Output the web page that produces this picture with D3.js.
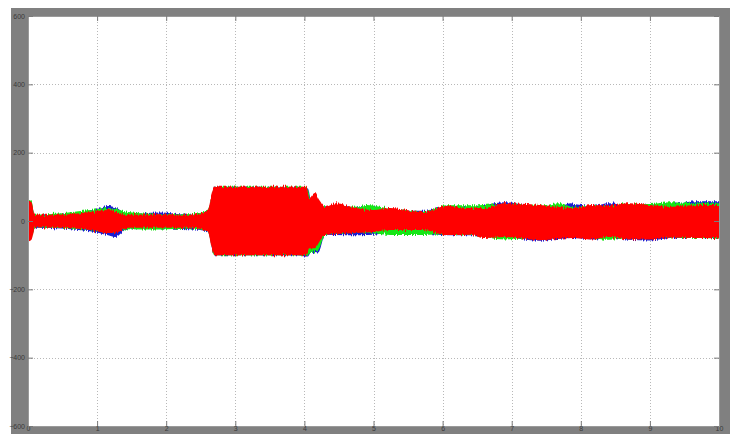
<!DOCTYPE html>
<html>
<head>
<meta charset="utf-8">
<script src="https://cdn.jsdelivr.net/npm/d3@7"></script>
<style>
  html, body { margin: 0; padding: 0; background: #ffffff; }
  svg { display: block; }
  .tick-label { font-family: "Liberation Sans", Arial, sans-serif; font-size: 7px; fill: #3a3a3a; }
</style>
</head>
<body>
<svg id="chart" width="735" height="434"></svg>
<script>
// Axis ticks
const xTicks = [0, 1, 2, 3, 4, 5, 6, 7, 8, 9, 10];
const yTicks = [-600, -400, -200, 0, 200, 400, 600];

// Envelope of each phase: time (s), upper and lower bound of the oscillation
const redT     = [0, 0.05, 0.1, 0.45, 0.9, 1.16, 1.26, 1.45, 1.9, 2.34, 2.6, 2.66, 2.7, 4.03, 4.07, 4.15, 4.22, 4.3, 4.45, 4.75, 5.0, 5.24, 5.72, 6.06, 6.4, 6.6, 6.9, 7.4, 7.9, 8.15, 8.4, 8.7, 9.0, 9.3, 9.7, 10];
const redUpper = [60, 55, 18, 18, 26, 32, 28, 18, 20, 18, 30, 80, 100, 100, 67, 82, 60, 41, 52, 38, 32, 38, 26, 44, 38, 38, 52, 47, 38, 47, 45, 52, 47, 42, 47, 47];
const redLower = [-60, -55, -18, -20, -26, -35, -35, -20, -20, -20, -30, -80, -100, -100, -80, -80, -60, -41, -38, -35, -32, -26, -26, -41, -40, -50, -47, -56, -50, -54, -47, -54, -54, -48, -50, -50];

const greenT     = [0, 0.05, 0.1, 0.9, 1.16, 1.45, 1.9, 2.34, 2.6, 2.7, 4.03, 4.1, 4.2, 4.3, 4.5, 4.75, 4.9, 5.24, 5.72, 6.06, 6.4, 6.9, 7.2, 7.4, 7.7, 7.9, 8.4, 8.7, 9.0, 9.3, 9.7, 10];
const greenUpper = [62, 58, 18, 32, 38, 26, 20, 20, 30, 100, 100, 60, 55, 40, 44, 42, 47, 36, 26, 46, 46, 50, 46, 45, 52, 40, 44, 50, 50, 55, 52, 52];
const greenLower = [-55, -50, -18, -26, -32, -24, -25, -22, -30, -100, -100, -92, -85, -40, -36, -33, -34, -41, -41, -38, -40, -54, -50, -45, -42, -40, -55, -50, -45, -48, -50, -52];

const blueT     = [0, 0.05, 0.1, 0.9, 1.16, 1.26, 1.45, 1.9, 2.34, 2.6, 2.7, 3.9, 4.05, 4.1, 4.2, 4.3, 4.6, 5.0, 5.24, 5.72, 6.06, 6.4, 6.9, 7.4, 7.7, 7.85, 7.9, 8.2, 8.4, 8.7, 9.0, 9.3, 9.7, 10];
const blueUpper = [50, 48, 16, 28, 44, 40, 20, 25, 18, 28, 98, 98, 98, 55, 50, 40, 40, 40, 30, 30, 42, 40, 55, 40, 42, 52, 50, 45, 52, 45, 48, 50, 58, 58];
const blueLower = [-50, -48, -20, -30, -42, -47, -22, -22, -24, -30, -100, -100, -104, -90, -92, -40, -42, -40, -32, -36, -42, -42, -46, -58, -52, -50, -50, -54, -48, -55, -57, -50, -50, -50];

const phases = [
  { name: "B", color: "#1a1ad0", t: blueT,  up: blueUpper,  lo: blueLower, seed: 5 },
  { name: "C", color: "#14e614", t: greenT, up: greenUpper, lo: greenLower, seed: 9 },
  { name: "A", color: "#ff0000", t: redT,   up: redUpper,   lo: redLower, seed: 2 }
];

const frame = { left: 11, top: 8, right: 730, bottom: 434 };
const plot = { left: 28, top: 16, right: 719, bottom: 426 };

const svg = d3.select("#chart");
const defs = svg.append("defs");

// Vertical streak texture along the band edges (dense sampling look)
phases.forEach(p => {
  const f = defs.append("filter").attr("id", "streak" + p.name)
    .attr("x", "-1%").attr("y", "-30%").attr("width", "102%").attr("height", "160%");
  f.append("feTurbulence").attr("type", "fractalNoise").attr("baseFrequency", "0.9 0.004")
    .attr("numOctaves", 1).attr("seed", p.seed).attr("result", "noise");
  f.append("feColorMatrix").attr("in", "noise").attr("type", "matrix")
    .attr("values", "0 0 0 0 0.5  0 1 0 0 0  0 0 0 0 0  0 0 0 0 1").attr("result", "ymap");
  f.append("feDisplacementMap").attr("in", "SourceGraphic").attr("in2", "ymap")
    .attr("scale", 7).attr("xChannelSelector", "R").attr("yChannelSelector", "G").attr("result", "disp");
  f.append("feGaussianBlur").attr("in", "disp").attr("stdDeviation", 0.4);
});

// Grey figure background
svg.append("rect")
  .attr("x", frame.left).attr("y", frame.top)
  .attr("width", frame.right - frame.left).attr("height", frame.bottom - frame.top)
  .attr("fill", "#808080");

// White axes area
svg.append("rect")
  .attr("x", plot.left).attr("y", plot.top)
  .attr("width", plot.right - plot.left).attr("height", plot.bottom - plot.top)
  .attr("fill", "#ffffff");

const x = d3.scaleLinear().domain([0, 10]).range([plot.left, plot.right]);
const y = d3.scaleLinear().domain([-600, 600]).range([plot.bottom, plot.top]);

// Dotted grid
const grid = svg.append("g").attr("stroke", "#b8b8b8").attr("stroke-width", 1).attr("stroke-dasharray", "1,2");
grid.selectAll("line.gx").data(xTicks.slice(1, -1)).join("line")
  .attr("x1", d => Math.round(x(d)) + 0.5).attr("x2", d => Math.round(x(d)) + 0.5)
  .attr("y1", plot.top).attr("y2", plot.bottom);
grid.selectAll("line.gy").data(yTicks.slice(1, -1)).join("line")
  .attr("y1", d => Math.round(y(d)) + 0.5).attr("y2", d => Math.round(y(d)) + 0.5)
  .attr("x1", plot.left).attr("x2", plot.right);

// Phase signals drawn as envelope bands
svg.append("clipPath").attr("id", "plotclip").append("rect")
  .attr("x", plot.left).attr("y", plot.top)
  .attr("width", plot.right - plot.left).attr("height", plot.bottom - plot.top);

const traces = svg.append("g").attr("clip-path", "url(#plotclip)");
phases.forEach(p => {
  const rows = p.t.map((t, i) => ({ t, up: p.up[i], lo: p.lo[i] }));
  const area = d3.area()
    .x(d => x(d.t))
    .y0(d => y(d.lo))
    .y1(d => y(d.up))
    .curve(d3.curveMonotoneX);
  traces.append("g").attr("filter", `url(#streak${p.name})`)
    .append("path")
    .datum(rows)
    .attr("d", area)
    .attr("fill", p.color);
});

// Axes with inward ticks on all four sides, grey like the figure
const axisColor = "#7a7a7a";
const bottomAxis = svg.append("g").attr("transform", `translate(0,${plot.bottom})`)
  .call(d3.axisBottom(x).tickValues(xTicks).tickSize(-5).tickPadding(2));
const topAxis = svg.append("g").attr("transform", `translate(0,${plot.top})`)
  .call(d3.axisTop(x).tickValues(xTicks).tickSize(-5).tickFormat(""));
const leftAxis = svg.append("g").attr("transform", `translate(${plot.left},0)`)
  .call(d3.axisLeft(y).tickValues(yTicks).tickSize(-5).tickPadding(3));
const rightAxis = svg.append("g").attr("transform", `translate(${plot.right},0)`)
  .call(d3.axisRight(y).tickValues(yTicks).tickSize(-5).tickFormat(""));

[bottomAxis, topAxis, leftAxis, rightAxis].forEach(g => {
  g.select(".domain").attr("stroke", "#9a9a9a");
  g.selectAll(".tick line").attr("stroke", axisColor);
  g.selectAll(".tick text").attr("class", "tick-label").attr("fill", "#3a3a3a");
});
bottomAxis.selectAll(".tick text").attr("dy", "0.45em");
</script>
</body>
</html>
